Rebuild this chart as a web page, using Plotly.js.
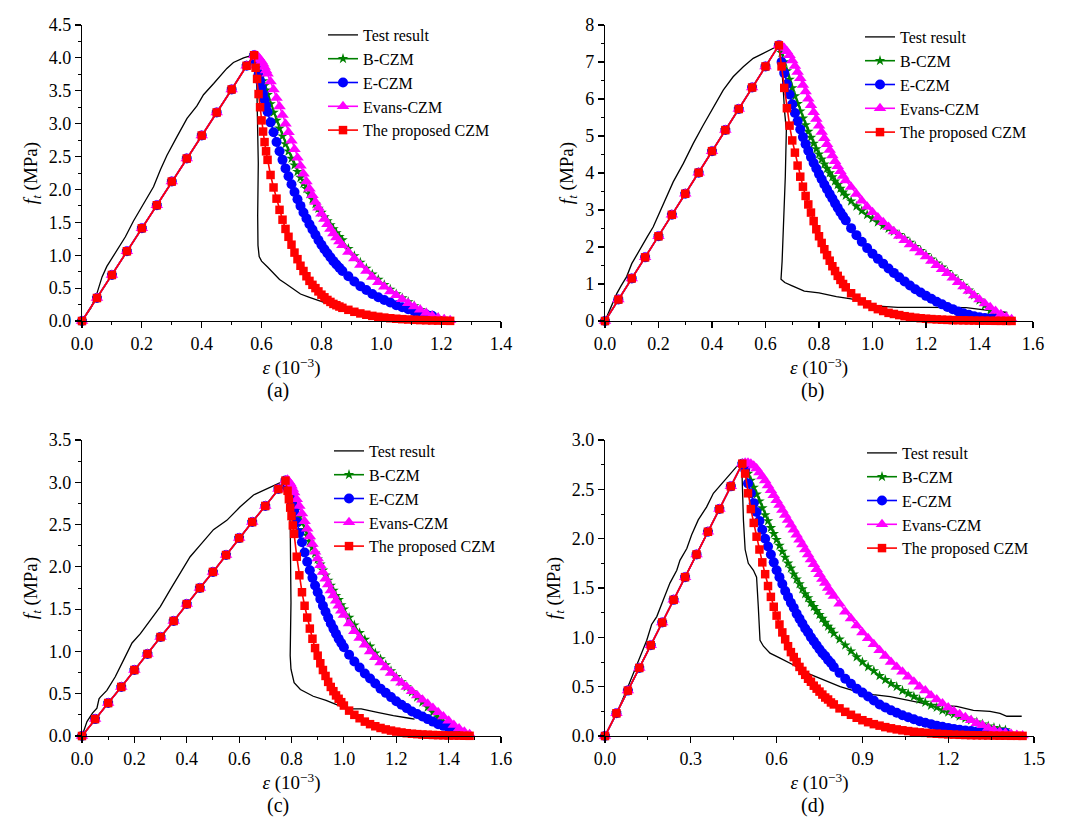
<!DOCTYPE html>
<html>
<head>
<meta charset="utf-8">
<script src="https://cdn.plot.ly/plotly-3.0.1.min.js"></script>
<style>html,body{margin:0;padding:0;background:#fff}#chart{width:1080px;height:834px}</style>
</head>
<body>
<div id="chart"></div>
<script>
// ---------- Panel (a) ----------
const a_up_x = [0,0.05,0.10,0.15,0.20,0.25,0.30,0.35,0.40,0.45,0.50,0.55,0.575];
const a_up_y = [0,0.35,0.70,1.06,1.41,1.76,2.12,2.47,2.82,3.17,3.52,3.88,4.04];
const a_dx = [0.58,0.585,0.59,0.595,0.60,0.605,0.61,0.615,0.62,
  0.63,0.64,0.65,0.66,0.67,0.68,0.69,0.70,0.71,0.72,0.73,0.74,0.75,0.76,0.77,0.78,0.79,0.80,0.81,0.82,0.83,0.84,0.85,0.86,0.87,
  0.89,0.91,0.93,0.95,0.97,0.99,1.01,1.03,1.05,1.07,1.09,1.11,1.13,1.15,1.17,1.19,1.21,1.23];
const a_bczm = [4.00,3.93,3.86,3.79,3.72,3.65,3.58,3.51,3.44,
  3.30,3.17,3.05,2.93,2.81,2.69,2.58,2.47,2.37,2.27,2.18,2.09,2.01,1.93,1.85,1.78,1.71,1.65,1.58,1.52,1.46,1.40,1.34,1.28,1.23,
  1.10,0.99,0.89,0.80,0.71,0.63,0.55,0.48,0.41,0.35,0.29,0.23,0.17,0.12,0.08,0.05,0.02];
const a_eczm = [3.95,3.85,3.75,3.65,3.55,3.45,3.36,3.27,3.18,
  3.02,2.87,2.72,2.58,2.45,2.32,2.20,2.08,1.96,1.85,1.75,1.65,1.56,1.47,1.39,1.31,1.23,1.16,1.09,1.03,0.97,0.91,0.86,0.81,0.76,
  0.68,0.60,0.53,0.47,0.41,0.36,0.32,0.28,0.24,0.21,0.18,0.15,0.12,0.10,0.08];
const a_evans = [4.04,4.03,4.01,3.98,3.95,3.91,3.86,3.81,3.76,
  3.64,3.52,3.39,3.26,3.13,3.00,2.87,2.74,2.61,2.48,2.36,2.24,2.12,2.01,1.91,1.81,1.72,1.63,1.55,1.47,1.40,1.33,1.27,1.21,1.15,
  1.05,0.95,0.85,0.76,0.67,0.59,0.52,0.45,0.39,0.33,0.27,0.22,0.17,0.12,0.08,0.05,0.025,0.01];
const a_prop = [3.85,3.68,3.45,3.25,3.05,2.88,2.72,2.58,2.45,
  2.22,2.03,1.86,1.69,1.54,1.40,1.28,1.16,1.04,0.94,0.84,0.76,0.68,0.61,0.55,0.50,0.45,0.40,0.36,0.32,0.29,0.26,0.24,0.22,0.20,
  0.17,0.14,0.115,0.095,0.078,0.064,0.052,0.042,0.034,0.028,0.023,0.018,0.014,0.011,0.008,0.006,0.004,0.002];
const a_test_x = [0,0.03,0.05,0.067,0.083,0.111,0.145,0.172,0.206,0.239,0.262,0.284,0.317,0.351,0.384,0.406,0.44,0.462,0.484,0.506,
  0.54,0.562,0.575,0.583,0.586,0.589,0.587,0.588,0.592,0.60,0.62,0.64,0.66,0.68,0.70,0.73,0.76,0.79,0.82,0.85];
const a_test_y = [0,0.2,0.42,0.67,0.83,1.03,1.28,1.52,1.79,2.04,2.30,2.52,2.80,3.08,3.27,3.44,3.61,3.72,3.84,3.93,
  4.00,4.03,4.04,3.85,3.2,2.4,1.6,1.15,0.98,0.91,0.82,0.72,0.63,0.57,0.51,0.41,0.36,0.31,0.26,0.22];

// ---------- Panel (b) ----------
const b_up_x = [0,0.05,0.10,0.15,0.20,0.25,0.30,0.35,0.40,0.45,0.50,0.55,0.60,0.65];
const b_up_y = [0,0.58,1.15,1.72,2.29,2.87,3.44,4.01,4.59,5.16,5.73,6.31,6.88,7.45];
const b_dx = [0.66,0.67,0.68,0.69,0.70,0.71,0.72,0.73,0.74,0.75,0.76,0.77,0.78,0.79,0.80,0.81,0.82,0.83,0.84,0.85,0.86,0.87,0.88,0.89,0.90,
  0.92,0.94,0.96,0.98,1.00,1.02,1.04,1.06,1.08,1.10,1.12,1.14,1.16,1.18,1.20,1.22,1.24,1.26,1.28,1.30,1.32,1.34,1.36,1.38,1.40,1.42,1.44,1.46,1.48,1.50,1.52];
const b_bczm = [7.25,7.0,6.76,6.53,6.30,6.08,5.87,5.67,5.48,5.30,5.12,4.96,4.80,4.65,4.51,4.37,4.24,4.12,4.00,3.89,3.78,3.68,3.58,3.48,3.39,
  3.24,3.10,2.98,2.87,2.77,2.67,2.58,2.50,2.42,2.33,2.23,2.12,2.01,1.90,1.79,1.67,1.56,1.45,1.33,1.21,1.09,0.96,0.83,0.70,0.56,0.42,0.28,0.14];
const b_eczm = [7.0,6.7,6.4,6.12,5.86,5.62,5.40,5.18,4.97,4.78,4.60,4.43,4.27,4.12,3.97,3.83,3.69,3.56,3.43,3.31,3.18,3.06,2.94,2.83,2.72,
  2.51,2.32,2.14,1.97,1.82,1.68,1.55,1.42,1.30,1.18,1.07,0.96,0.86,0.77,0.68,0.60,0.52,0.45,0.38,0.32,0.26,0.21,0.17,0.13,0.10,0.08,0.07,0.06];
const b_evans = [7.44,7.38,7.29,7.18,7.04,6.89,6.73,6.56,6.38,6.20,6.01,5.83,5.64,5.46,5.28,5.11,4.94,4.78,4.62,4.47,4.32,4.18,4.05,3.92,3.80,
  3.62,3.43,3.25,3.09,2.94,2.80,2.67,2.54,2.42,2.30,2.18,2.07,1.96,1.85,1.74,1.62,1.51,1.40,1.29,1.17,1.05,0.93,0.81,0.69,0.58,0.47,0.37,0.27,0.18,0.11,0.05];
const b_prop = [6.88,6.30,5.75,5.28,4.88,4.55,4.20,3.90,3.63,3.38,3.15,2.93,2.70,2.48,2.29,2.11,1.94,1.78,1.63,1.48,1.35,1.22,1.11,1.00,0.91,
  0.75,0.63,0.53,0.45,0.38,0.32,0.27,0.22,0.19,0.16,0.13,0.11,0.09,0.075,0.062,0.052,0.043,0.036,0.03,0.025,0.021,0.018,0.015,0.012,0.01,0.008,0.006,0.005,0.004,0.003,0.002];
const b_test_x = [0,0.02,0.044,0.06,0.081,0.10,0.131,0.16,0.18,0.218,0.255,0.293,0.33,0.367,0.405,0.442,0.479,0.517,0.554,0.592,
  0.629,0.648,0.66,0.672,0.678,0.674,0.668,0.662,0.658,0.672,0.70,0.745,0.80,0.865,0.92,0.973,1.01,1.094,1.2,1.275,1.35,1.395,1.45,1.504];
const b_test_y = [0,0.35,0.74,0.95,1.20,1.55,1.95,2.3,2.54,3.17,3.76,4.26,4.80,5.29,5.79,6.24,6.60,6.87,7.10,7.23,
  7.37,7.46,6.97,5.61,5.16,3.9,2.44,1.6,1.13,1.04,0.95,0.81,0.76,0.66,0.60,0.52,0.41,0.37,0.37,0.37,0.36,0.32,0.28,0.23];

// ---------- Panel (c) ----------
const c_up_x = [0,0.05,0.10,0.15,0.20,0.25,0.30,0.35,0.40,0.45,0.50,0.55,0.60,0.65,0.70,0.75,0.777];
const c_up_y = [0,0.20,0.39,0.58,0.78,0.97,1.17,1.36,1.56,1.75,1.94,2.14,2.34,2.53,2.72,2.92,3.02];
const c_dx = [0.785,0.79,0.795,0.80,0.805,0.81,
  0.82,0.83,0.84,0.85,0.86,0.87,0.88,0.89,0.90,0.91,0.92,0.93,0.94,0.95,0.96,0.97,0.98,0.99,1.00,
  1.02,1.04,1.06,1.08,1.10,1.12,1.14,1.16,1.18,1.20,1.22,1.24,1.26,1.28,1.30,1.32,1.34,1.36,1.38,1.40,1.42,1.44,1.46,1.48];
const c_bczm = [2.95,2.91,2.87,2.83,2.79,2.75,
  2.67,2.59,2.52,2.44,2.37,2.30,2.23,2.16,2.09,2.03,1.96,1.90,1.84,1.78,1.72,1.66,1.61,1.55,1.50,
  1.40,1.31,1.22,1.14,1.06,0.98,0.91,0.84,0.77,0.70,0.64,0.58,0.52,0.46,0.40,0.34,0.28,0.22,0.17,0.12,0.08,0.04];
const c_eczm = [2.93,2.88,2.83,2.78,2.72,2.66,
  2.53,2.40,2.29,2.17,2.06,1.96,1.87,1.78,1.70,1.62,1.54,1.47,1.40,1.33,1.27,1.21,1.15,1.10,1.05,
  0.96,0.88,0.81,0.74,0.68,0.62,0.56,0.51,0.46,0.41,0.37,0.33,0.29,0.26,0.23,0.20,0.17,0.14,0.12,0.10,0.08];
const c_evans = [3.03,3.01,2.99,2.96,2.92,2.88,
  2.80,2.72,2.63,2.54,2.45,2.36,2.27,2.18,2.10,2.02,1.94,1.86,1.79,1.72,1.66,1.60,1.54,1.48,1.43,
  1.33,1.24,1.16,1.08,1.00,0.93,0.87,0.81,0.745,0.68,0.63,0.58,0.53,0.48,0.43,0.38,0.33,0.28,0.23,0.18,0.13,0.09,0.05,0.02];
const c_prop = [2.90,2.80,2.70,2.60,2.49,2.39,
  2.12,1.90,1.70,1.54,1.40,1.27,1.15,1.04,0.95,0.86,0.78,0.71,0.64,0.58,0.53,0.48,0.44,0.40,0.36,
  0.30,0.25,0.21,0.17,0.14,0.115,0.095,0.078,0.064,0.052,0.042,0.033,0.027,0.022,0.018,0.015,0.012,0.01,0.008,0.006,0.005,0.004,0.003,0.002];
const c_test_x = [0,0.019,0.04,0.057,0.065,0.07,0.095,0.127,0.159,0.191,0.223,0.261,0.299,0.337,0.375,0.413,0.452,0.502,0.553,0.604,
  0.655,0.706,0.74,0.767,0.785,0.795,0.798,0.797,0.795,0.798,0.81,0.834,0.883,0.932,0.981,1.03,1.066,1.128,1.189,1.25,1.27];
const c_test_y = [0,0.17,0.27,0.33,0.44,0.46,0.54,0.70,0.90,1.10,1.21,1.37,1.53,1.73,1.92,2.12,2.26,2.44,2.55,2.71,
  2.85,2.92,2.97,3.01,2.77,2.53,1.58,1.1,0.95,0.79,0.63,0.55,0.47,0.42,0.36,0.32,0.32,0.28,0.24,0.21,0.20];

// ---------- Panel (d) ----------
const d_up_x = [0,0.04,0.08,0.12,0.16,0.20,0.24,0.28,0.32,0.36,0.40,0.44,0.48];
const d_up_y = [0,0.23,0.46,0.69,0.92,1.15,1.38,1.61,1.84,2.07,2.30,2.53,2.76];
const d_dx = [0.49,0.50,0.51,0.52,0.53,0.54,0.55,0.56,0.57,0.58,0.59,0.60,0.61,0.62,0.63,0.64,0.65,0.66,0.67,0.68,
  0.69,0.70,0.71,0.72,0.73,0.74,0.75,0.76,0.77,0.78,0.79,0.80,
  0.82,0.84,0.86,0.88,0.90,0.92,0.94,0.96,0.98,1.00,1.02,1.04,1.06,1.08,1.10,1.12,1.14,1.16,1.18,1.20,
  1.22,1.24,1.26,1.28,1.30,1.32,1.34,1.36,1.38,1.40,1.42,1.44,1.46];
const d_bczm = [2.72,2.66,2.59,2.52,2.45,2.38,2.31,2.24,2.18,2.11,2.05,1.99,1.93,1.87,1.81,1.75,1.70,1.64,1.59,1.54,
  1.49,1.44,1.40,1.35,1.31,1.27,1.23,1.19,1.15,1.11,1.08,1.04,
  0.98,0.92,0.86,0.80,0.75,0.70,0.66,0.61,0.57,0.53,0.50,0.46,0.43,0.40,0.37,0.34,0.31,0.29,0.26,0.24,
  0.22,0.20,0.18,0.16,0.14,0.12,0.10,0.085,0.07,0.06];
const d_eczm = [2.70,2.56,2.46,2.36,2.27,2.18,2.09,2.00,1.92,1.84,1.76,1.68,1.61,1.54,1.47,1.41,1.35,1.30,1.24,1.19,
  1.14,1.09,1.05,1.00,0.96,0.92,0.88,0.84,0.81,0.77,0.74,0.70,
  0.64,0.58,0.53,0.48,0.44,0.40,0.36,0.32,0.29,0.26,0.235,0.21,0.19,0.17,0.15,0.135,0.12,0.105,0.093,0.082,
  0.072,0.064,0.057,0.051,0.046,0.042,0.039,0.036,0.034,0.032];
const d_evans = [2.77,2.77,2.76,2.74,2.71,2.67,2.63,2.59,2.54,2.49,2.44,2.39,2.34,2.29,2.24,2.19,2.14,2.09,2.04,1.99,
  1.94,1.89,1.84,1.79,1.74,1.69,1.64,1.59,1.55,1.50,1.46,1.42,
  1.34,1.26,1.19,1.12,1.05,0.99,0.93,0.87,0.81,0.75,0.70,0.65,0.60,0.55,0.50,0.46,0.41,0.37,0.33,0.29,
  0.25,0.22,0.19,0.16,0.13,0.11,0.08,0.06,0.04,0.03,0.02,0.01,0.005];
const d_prop = [2.66,2.46,2.30,2.16,2.02,1.89,1.76,1.64,1.52,1.41,1.31,1.22,1.13,1.05,0.98,0.91,0.85,0.80,0.75,0.70,
  0.66,0.62,0.58,0.55,0.51,0.48,0.45,0.42,0.39,0.37,0.34,0.32,
  0.28,0.245,0.215,0.185,0.16,0.14,0.12,0.105,0.09,0.078,0.067,0.058,0.05,0.043,0.037,0.032,0.027,0.023,0.02,0.017,
  0.014,0.012,0.01,0.008,0.007,0.006,0.005,0.004,0.003,0.003,0.002,0.002,0.001];
const d_test_x = [0,0.041,0.076,0.111,0.146,0.163,0.181,0.204,0.227,0.251,0.262,0.286,0.303,0.326,0.355,0.379,0.402,0.431,0.46,0.478,
  0.48,0.484,0.49,0.501,0.519,0.530,0.536,0.542,0.554,0.577,0.612,0.659,0.705,0.763,0.822,0.88,0.938,0.997,1.055,1.113,
  1.171,1.23,1.288,1.346,1.381,1.405,1.457];
const d_test_y = [0,0.23,0.47,0.72,0.97,1.13,1.21,1.38,1.55,1.68,1.78,1.90,2.04,2.19,2.32,2.46,2.54,2.63,2.73,2.76,
  2.53,2.19,1.89,1.75,1.68,1.61,1.31,0.97,0.91,0.84,0.79,0.72,0.64,0.57,0.50,0.45,0.42,0.40,0.365,0.33,
  0.31,0.30,0.26,0.25,0.23,0.20,0.20];

const seriesNames = ['Test result','B-CZM','E-CZM','Evans-CZM','The proposed CZM'];
const panelLabels = ['(a)','(b)','(c)','(d)'];

// ---------- styling ----------
const FONT = '"Liberation Serif", "Times New Roman", serif';
const styles = [
  {color:'#008000', symbol:'star', size:8},
  {color:'#0000FF', symbol:'circle', size:10},
  {color:'#FF00FF', symbol:'triangle-up', size:11},
  {color:'#FF0000', symbol:'square', size:8.5}
];

const panels = [
  {xa:'x', ya:'y', lg:'legend', up:[a_up_x,a_up_y], dx:a_dx, models:[a_bczm,a_eczm,a_evans,a_prop], test:[a_test_x,a_test_y]},
  {xa:'x2', ya:'y2', lg:'legend2', up:[b_up_x,b_up_y], dx:b_dx, models:[b_bczm,b_eczm,b_evans,b_prop], test:[b_test_x,b_test_y]},
  {xa:'x3', ya:'y3', lg:'legend3', up:[c_up_x,c_up_y], dx:c_dx, models:[c_bczm,c_eczm,c_evans,c_prop], test:[c_test_x,c_test_y]},
  {xa:'x4', ya:'y4', lg:'legend4', up:[d_up_x,d_up_y], dx:d_dx, models:[d_bczm,d_eczm,d_evans,d_prop], test:[d_test_x,d_test_y]}
];

const traces = [];
panels.forEach(p => {
  traces.push({
    x:p.test[0], y:p.test[1], xaxis:p.xa, yaxis:p.ya, legend:p.lg,
    name:seriesNames[0], mode:'lines', line:{color:'#000000', width:1.3}, cliponaxis:false
  });
  p.models.forEach((ys, i) => {
    const s = styles[i];
    traces.push({
      x:p.up[0].concat(p.dx.slice(0, ys.length)),
      y:p.up[1].concat(ys),
      xaxis:p.xa, yaxis:p.ya, legend:p.lg,
      name:seriesNames[i+1], mode:'lines+markers',
      line:{color:s.color, width:1.6},
      marker:{color:s.color, symbol:s.symbol, size:s.size, line:{width:0}},
      cliponaxis:false
    });
  });
});

const PX = v => v/1080, PY = v => 1 - v/834;
const tickFont = {family:FONT, size:18, color:'#000'};
const titleFont = {family:FONT, size:19, color:'#000'};
function xax(dom, anchor, range, dtick, mdtick) {
  return {domain:dom, anchor:anchor, range:range, dtick:dtick, tick0:0, tickformat:'.1f',
    showline:true, linecolor:'#000', linewidth:1.2, ticks:'outside', ticklen:6, tickwidth:1.2, tickcolor:'#000',
    minor:{ticks:'outside', ticklen:3, dtick:mdtick, tick0:0, tickcolor:'#000', tickwidth:1},
    showgrid:false, zeroline:false, tickfont:tickFont, fixedrange:true,
    title:{text:'<i>ε</i> (10<sup>−3</sup>)', font:titleFont, standoff:8}};
}
function yax(dom, anchor, range, dtick, mdtick, fmt) {
  return {domain:dom, anchor:anchor, range:range, dtick:dtick, tick0:0, tickformat:fmt,
    showline:true, linecolor:'#000', linewidth:1.2, ticks:'outside', ticklen:6, tickwidth:1.2, tickcolor:'#000',
    minor:{ticks:'outside', ticklen:3, dtick:mdtick, tick0:0, tickcolor:'#000', tickwidth:1},
    showgrid:false, zeroline:false, tickfont:tickFont, fixedrange:true,
    title:{text:'<i>f</i><sub><i>t</i></sub> (MPa)', font:titleFont, standoff:6}};
}
const topDom = [PY(321), PY(25)], botDom = [PY(736), PY(440)];
const legFont = {family:FONT, size:16, color:'#000'};
function leg(x, y) {
  return {x:PX(x), y:PY(y), xanchor:'left', yanchor:'top', bgcolor:'rgba(0,0,0,0)', borderwidth:0, font:legFont};
}
function lab(i, x, y) {
  return {text:panelLabels[i], x:PX(x), y:PY(y), xref:'paper', yref:'paper', xanchor:'center', yanchor:'middle',
    showarrow:false, font:{family:FONT, size:20, color:'#000'}};
}

const layout = {
  width:1080, height:834, margin:{l:0, r:0, t:0, b:0},
  paper_bgcolor:'#fff', plot_bgcolor:'rgba(0,0,0,0)', showlegend:true,
  font:{family:FONT, color:'#000'},
  xaxis: xax([PX(82), PX(501)], 'y', [0,1.4], 0.2, 0.1),
  yaxis: yax(topDom, 'x', [0,4.5], 0.5, 0.25, '.1f'),
  xaxis2: xax([PX(605), PX(1033)], 'y2', [0,1.6], 0.2, 0.1),
  yaxis2: yax(topDom, 'x2', [0,8], 1, 0.5, 'd'),
  xaxis3: xax([PX(82), PX(501)], 'y3', [0,1.6], 0.2, 0.1),
  yaxis3: yax(botDom, 'x3', [0,3.5], 0.5, 0.25, '.1f'),
  xaxis4: xax([PX(605), PX(1034)], 'y4', [0,1.5], 0.3, 0.15),
  yaxis4: yax(botDom, 'x4', [0,3.0], 0.5, 0.25, '.1f'),
  legend: leg(323, 18),
  legend2: leg(860, 20),
  legend3: leg(329, 434),
  legend4: leg(862, 436),
  annotations: [lab(0, 278, 390), lab(1, 812, 390), lab(2, 278, 805), lab(3, 812, 805)]
};

Plotly.newPlot('chart', traces, layout, {staticPlot:true, displayModeBar:false});
</script>
</body>
</html>
